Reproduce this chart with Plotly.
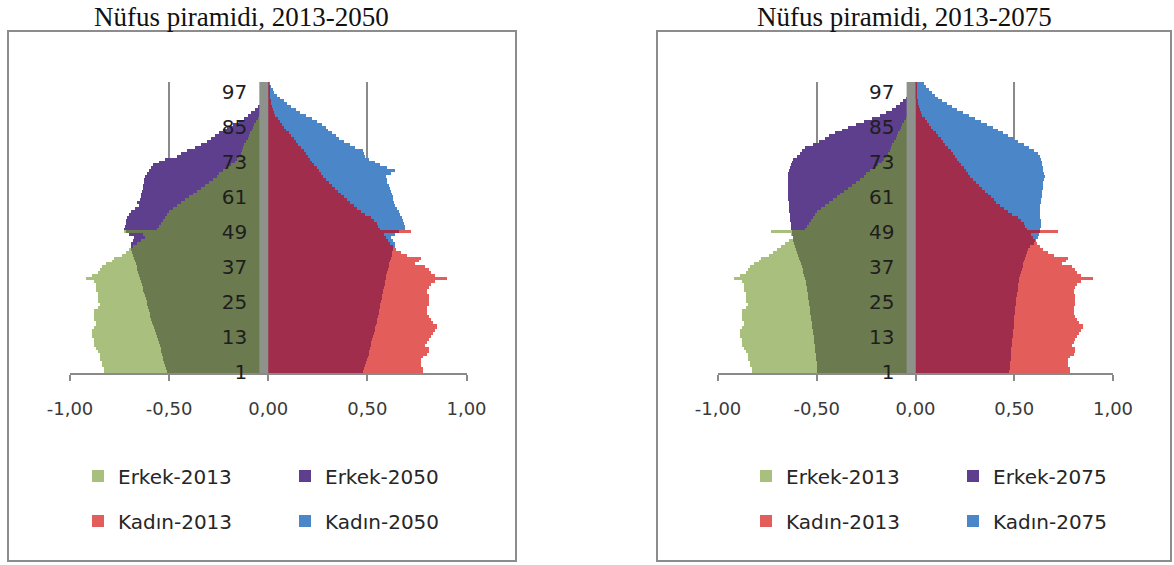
import numpy as np
import plotly.graph_objects as go

# Ages shown on the vertical category axis
ages = list(range(1, 101))
age_ticks = [1, 13, 25, 37, 49, 61, 73, 85, 97]

x_ticks = [-1.0, -0.5, 0.0, 0.5, 1.0]
x_ticktext = ["-1,00", "-0,50", "0,00", "0,50", "1,00"]

# Population share by single year of age (%), 2013
erkek_2013 = [
    0.83, 0.83, 0.84, 0.84, 0.85, 0.85, 0.85, 0.86, 0.87, 0.88,
    0.88, 0.88, 0.89, 0.89, 0.89, 0.88, 0.87, 0.87, 0.88, 0.88,
    0.88, 0.88, 0.86, 0.85, 0.86, 0.86, 0.86, 0.86, 0.87, 0.87,
    0.87, 0.88, 0.92, 0.89, 0.86, 0.85, 0.84, 0.82, 0.79, 0.78,
    0.74, 0.72, 0.70, 0.68, 0.66, 0.64, 0.62, 0.63, 0.73, 0.56,
    0.55, 0.54, 0.53, 0.52, 0.51, 0.50, 0.48, 0.46, 0.44, 0.42,
    0.40, 0.38, 0.36, 0.34, 0.32, 0.30, 0.28, 0.26, 0.25, 0.23,
    0.21, 0.19, 0.17, 0.16, 0.15, 0.14, 0.13, 0.125, 0.12, 0.11,
    0.10, 0.095, 0.09, 0.08, 0.075, 0.07, 0.06, 0.05, 0.045, 0.04,
    0.035, 0.03, 0.025, 0.02, 0.015, 0.012, 0.01, 0.008, 0.006, 0.005,
]
kadin_2013 = [
    0.78, 0.78, 0.77, 0.77, 0.77, 0.78, 0.80, 0.81, 0.81, 0.79,
    0.80, 0.81, 0.82, 0.83, 0.84, 0.85, 0.85, 0.83, 0.82, 0.81,
    0.80, 0.80, 0.80, 0.81, 0.81, 0.81, 0.81, 0.80, 0.80, 0.81,
    0.82, 0.84, 0.90, 0.84, 0.82, 0.81, 0.79, 0.74, 0.76, 0.77,
    0.70, 0.67, 0.645, 0.63, 0.615, 0.605, 0.595, 0.585, 0.72, 0.565,
    0.555, 0.548, 0.535, 0.518, 0.49, 0.467, 0.45, 0.43, 0.41, 0.395,
    0.38, 0.365, 0.35, 0.335, 0.32, 0.305, 0.29, 0.278, 0.265, 0.255,
    0.245, 0.232, 0.22, 0.21, 0.20, 0.19, 0.178, 0.165, 0.15, 0.14,
    0.128, 0.115, 0.103, 0.09, 0.08, 0.07, 0.06, 0.048, 0.035, 0.028,
    0.022, 0.018, 0.015, 0.012, 0.01, 0.008, 0.006, 0.005, 0.004, 0.003,
]

# Projection, 2050
erkek_2050 = [
    0.51, 0.515, 0.52, 0.525, 0.53, 0.533, 0.536, 0.54, 0.543, 0.546,
    0.55, 0.555, 0.56, 0.565, 0.57, 0.575, 0.58, 0.585, 0.59, 0.594,
    0.598, 0.60, 0.605, 0.61, 0.614, 0.618, 0.622, 0.626, 0.63, 0.634,
    0.638, 0.642, 0.646, 0.65, 0.655, 0.66, 0.664, 0.668, 0.672, 0.676,
    0.68, 0.685, 0.69, 0.69, 0.69, 0.68, 0.675, 0.70, 0.72, 0.73,
    0.725, 0.72, 0.72, 0.71, 0.70, 0.69, 0.67, 0.65, 0.66, 0.645,
    0.64, 0.64, 0.635, 0.63, 0.63, 0.625, 0.625, 0.62, 0.61, 0.60,
    0.59, 0.58, 0.55, 0.52, 0.46, 0.44, 0.41, 0.37, 0.34, 0.31,
    0.29, 0.27, 0.25, 0.23, 0.21, 0.18, 0.15, 0.12, 0.10, 0.085,
    0.065, 0.05, 0.04, 0.035, 0.03, 0.025, 0.02, 0.015, 0.01, 0.008,
]
kadin_2050 = [
    0.48, 0.485, 0.49, 0.495, 0.50, 0.503, 0.507, 0.51, 0.513, 0.517,
    0.52, 0.524, 0.528, 0.532, 0.536, 0.54, 0.544, 0.548, 0.551, 0.554,
    0.557, 0.56, 0.563, 0.566, 0.569, 0.572, 0.575, 0.578, 0.581, 0.584,
    0.587, 0.59, 0.593, 0.596, 0.60, 0.603, 0.607, 0.61, 0.614, 0.618,
    0.622, 0.626, 0.63, 0.64, 0.64, 0.63, 0.62, 0.64, 0.66, 0.69,
    0.69, 0.685, 0.68, 0.675, 0.665, 0.66, 0.65, 0.64, 0.635, 0.63,
    0.63, 0.625, 0.62, 0.615, 0.61, 0.60, 0.60, 0.595, 0.62, 0.64,
    0.60, 0.565, 0.54, 0.51, 0.49, 0.485, 0.48, 0.44, 0.41, 0.38,
    0.355, 0.34, 0.32, 0.30, 0.29, 0.27, 0.245, 0.22, 0.19, 0.16,
    0.14, 0.115, 0.095, 0.08, 0.06, 0.045, 0.03, 0.022, 0.015, 0.01,
]

# Projection, 2075
erkek_2075 = [
    0.50, 0.50, 0.50, 0.50, 0.505, 0.505, 0.505, 0.51, 0.51, 0.51,
    0.512, 0.514, 0.516, 0.518, 0.52, 0.522, 0.524, 0.526, 0.528, 0.53,
    0.532, 0.534, 0.536, 0.538, 0.54, 0.542, 0.544, 0.546, 0.548, 0.55,
    0.553, 0.556, 0.56, 0.564, 0.568, 0.572, 0.576, 0.58, 0.585, 0.59,
    0.595, 0.60, 0.605, 0.61, 0.615, 0.62, 0.622, 0.624, 0.626, 0.628,
    0.63, 0.632, 0.634, 0.636, 0.638, 0.64, 0.64, 0.642, 0.643, 0.644,
    0.645, 0.645, 0.645, 0.645, 0.645, 0.645, 0.645, 0.645, 0.644, 0.64,
    0.635, 0.63, 0.625, 0.62, 0.60, 0.585, 0.575, 0.56, 0.52, 0.49,
    0.46, 0.44, 0.41, 0.37, 0.34, 0.30, 0.26, 0.22, 0.18, 0.15,
    0.12, 0.10, 0.08, 0.065, 0.05, 0.04, 0.03, 0.022, 0.015, 0.01,
]
kadin_2075 = [
    0.475, 0.477, 0.48, 0.48, 0.482, 0.483, 0.484, 0.485, 0.486, 0.487,
    0.488, 0.49, 0.492, 0.494, 0.496, 0.497, 0.498, 0.50, 0.50, 0.50,
    0.502, 0.503, 0.505, 0.507, 0.509, 0.511, 0.513, 0.515, 0.517, 0.519,
    0.52, 0.523, 0.526, 0.53, 0.534, 0.538, 0.542, 0.546, 0.55, 0.555,
    0.56, 0.566, 0.572, 0.578, 0.60, 0.61, 0.62, 0.625, 0.63, 0.632,
    0.635, 0.635, 0.635, 0.632, 0.63, 0.63, 0.63, 0.632, 0.634, 0.636,
    0.638, 0.64, 0.642, 0.644, 0.646, 0.648, 0.65, 0.655, 0.65, 0.645,
    0.645, 0.64, 0.64, 0.635, 0.63, 0.62, 0.60, 0.575, 0.55, 0.52,
    0.50, 0.47, 0.445, 0.42, 0.39, 0.36, 0.33, 0.30, 0.27, 0.24,
    0.21, 0.185, 0.16, 0.135, 0.115, 0.10, 0.085, 0.07, 0.055, 0.045,
]

# Colours
C_ERKEK_OLD = "#a9bf7e"
C_ERKEK_NEW = "#5d3f8e"
C_ERKEK_BOTH = "#6c7a4f"
C_KADIN_OLD = "#e35e5b"
C_KADIN_NEW = "#4b86c9"
C_KADIN_BOTH = "#9f2d4b"
C_AXIS = "#8a8a8a"
C_BAND = "#8d928b"

FONT = "DejaVu Sans"
W, H = 1174, 565


def px_x(p):
    return p / W


def px_y(p):
    return (H - p) / H


fig = go.Figure()


def add_pyramid(col, year, m_new, k_new, legend_top, legend_bottom):
    xa = "x" if col == 1 else "x2"
    ya = "y" if col == 1 else "y2"
    m_old = np.array(erkek_2013)
    k_old = np.array(kadin_2013)
    m_new = np.array(m_new)
    k_new = np.array(k_new)
    common = dict(orientation="h", y=ages, width=1.0, xaxis=xa, yaxis=ya,
                  marker_line_width=0, hoverinfo="skip")
    # male side (negative values)
    fig.add_trace(go.Bar(x=-m_old, name="Erkek-2013", marker_color=C_ERKEK_OLD,
                         legend=legend_top, legendrank=1, **common))
    fig.add_trace(go.Bar(x=-m_new, name=f"Erkek-{year}", marker_color=C_ERKEK_NEW,
                         legend=legend_top, legendrank=2, **common))
    fig.add_trace(go.Bar(x=-np.minimum(m_old, m_new), marker_color=C_ERKEK_BOTH,
                         showlegend=False, **common))
    # female side
    fig.add_trace(go.Bar(x=k_old, name="Kadın-2013", marker_color=C_KADIN_OLD,
                         legend=legend_bottom, legendrank=1, **common))
    fig.add_trace(go.Bar(x=k_new, name=f"Kadın-{year}", marker_color=C_KADIN_NEW,
                         legend=legend_bottom, legendrank=2, **common))
    fig.add_trace(go.Bar(x=np.minimum(k_old, k_new), marker_color=C_KADIN_BOTH,
                         showlegend=False, **common))


add_pyramid(1, 2050, erkek_2050, kadin_2050, "legend", "legend2")
add_pyramid(2, 2075, erkek_2075, kadin_2075, "legend3", "legend4")

# plot-area geometry (pixels)
panels = [
    dict(x0=70, x1=466.5, box=(8, 516), title="Nüfus piramidi, 2013-2050", tx=241,
         leg_x=78),
    dict(x0=718, x1=1113, box=(657, 1171), title="Nüfus piramidi, 2013-2075", tx=904,
         leg_x=746),
]
plot_top, plot_bottom = 82, 373

xaxis_common = dict(
    range=[-1, 1], tickvals=x_ticks, ticktext=x_ticktext,
    showgrid=True, gridcolor=C_AXIS, gridwidth=1.5, zeroline=False,
    showline=True, linecolor=C_AXIS, linewidth=1.5,
    ticks="outside", ticklen=6, tickcolor=C_AXIS, tickwidth=1.5,
    ticklabelstandoff=13,
    tickfont=dict(family=FONT, size=18, color="#3a3a3a"),
    fixedrange=True,
)
yaxis_common = dict(
    range=[0.5, 100.5], tickvals=age_ticks, ticktext=[str(a) for a in age_ticks],
    showgrid=False, zeroline=False, showline=False, ticks="",
    ticklabelstandoff=21,
    tickfont=dict(family=FONT, size=20, color="#1e1e1e"),
    domain=[px_y(plot_bottom), px_y(plot_top)], fixedrange=True,
)

layout_axes = {}
for i, p in enumerate(panels, start=1):
    sfx = "" if i == 1 else str(i)
    zero_px = (p["x0"] + p["x1"]) / 2
    layout_axes[f"xaxis{sfx}"] = dict(xaxis_common, domain=[px_x(p["x0"]), px_x(p["x1"])],
                                      anchor=f"y{sfx}")
    layout_axes[f"yaxis{sfx}"] = dict(yaxis_common, anchor="free", position=px_x(zero_px))

shapes = []
annotations = []
for i, p in enumerate(panels, start=1):
    sfx = "" if i == 1 else str(i)
    # chart frame
    shapes.append(dict(type="rect", xref="paper", yref="paper",
                       x0=px_x(p["box"][0]), x1=px_x(p["box"][1]),
                       y0=px_y(561), y1=px_y(31),
                       line=dict(color="#8c8c8c", width=2), layer="below"))
    # grey band along the vertical axis
    shapes.append(dict(type="rect", xref=f"x{sfx}", yref=f"y{sfx}",
                       x0=-0.045, x1=0.0, y0=0.5, y1=100.8,
                       fillcolor=C_BAND, line_width=0, layer="above"))
    annotations.append(dict(text=p["title"], xref="paper", yref="paper",
                            x=px_x(p["tx"]), y=px_y(17), xanchor="center",
                            yanchor="middle", showarrow=False,
                            font=dict(family="Liberation Serif", size=27, color="#111111")))

legend_common = dict(orientation="h", yanchor="middle", xanchor="left",
                     bgcolor="rgba(0,0,0,0)", borderwidth=0,
                     entrywidthmode="pixels", entrywidth=162,
                     font=dict(family=FONT, size=20, color="#262626"),
                     traceorder="normal")
legends = {
    "legend": dict(legend_common, x=px_x(panels[0]["leg_x"]), y=px_y(476)),
    "legend2": dict(legend_common, x=px_x(panels[0]["leg_x"]), y=px_y(521)),
    "legend3": dict(legend_common, x=px_x(panels[1]["leg_x"]), y=px_y(476)),
    "legend4": dict(legend_common, x=px_x(panels[1]["leg_x"]), y=px_y(521)),
}

fig.update_layout(
    width=W, height=H,
    margin=dict(l=0, r=0, t=0, b=0, autoexpand=False),
    paper_bgcolor="white", plot_bgcolor="white",
    barmode="overlay", bargap=0,
    shapes=shapes, annotations=annotations,
    **layout_axes, **legends,
)

fig.write_html("out.html")
